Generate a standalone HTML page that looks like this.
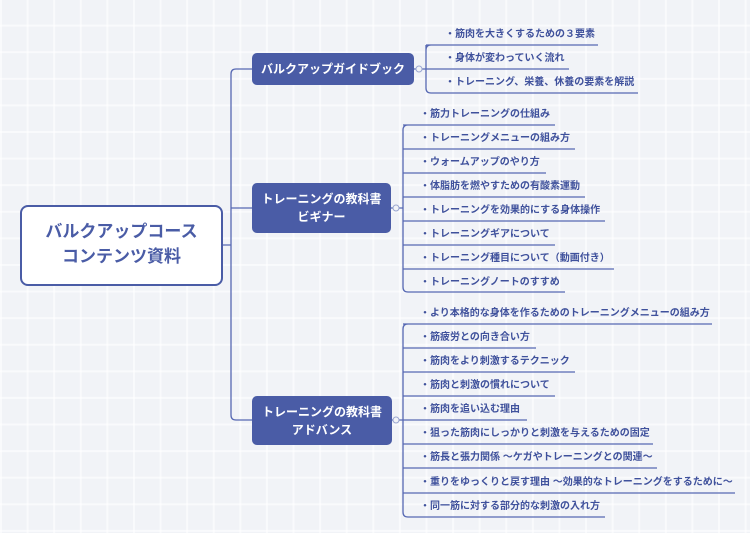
<!DOCTYPE html>
<html><head><meta charset="utf-8"><style>
html,body{margin:0;padding:0}
body{width:750px;height:533px;position:relative;overflow:hidden;
background-color:#f1f3f7;
background-image:linear-gradient(90deg,rgba(255,255,255,.6) 2px,transparent 2px),linear-gradient(0deg,rgba(255,255,255,.6) 2px,transparent 2px);
background-size:26.6px 26.6px;
font-family:"Liberation Sans","Noto Sans CJK JP",sans-serif;font-weight:bold}
.b{position:absolute;background:#4a5ca6;color:#fff;border-radius:5px;display:flex;align-items:center;justify-content:center;text-align:center;font-size:12px;line-height:18px}
.r{position:absolute;left:20px;top:205px;width:199px;height:77px;border:2px solid #4a5ca6;border-radius:8px;background:#fff;color:#4a5ca6;font-size:17px;line-height:25px;display:flex;align-items:center;justify-content:center;text-align:center;padding-bottom:4px;box-sizing:content-box;height:73px}
.t{position:absolute;font-size:10px;color:#3f519c;white-space:nowrap;line-height:12px;margin-top:2px}
svg{position:absolute;left:0;top:0}
</style></head><body>
<svg width="750" height="533" fill="none" stroke="#5668b3" stroke-width="1.3">
<path d="M222 245H231M252 69H236Q231 69 231 74V415Q231 420 236 420H252M231 208H252"/>
<path d="M414 69H426M426 69H432M426 45V88Q426 93 431 93H638M431 45Q426 45 426 50M426 45H598M426 69H569"/>
<path d="M391 208H403M408 125Q403 125 403 130V287Q403 292 408 292H565M403 125H555M403 149H575M403 173H546M403 197H585M403 221H605M403 245H555M403 269H614"/>
<path d="M391 420H403M408 324Q403 324 403 329V512Q403 517 408 517H605M403 324H712M403 348H536M403 372H575M403 396H555M403 420H527M403 444H653M403 468H657M403 493H735"/>
<g fill="#f1f3f7" stroke="#9aa6d0" stroke-width="1"><circle cx="419" cy="69" r="3"/><circle cx="396" cy="208" r="3"/><circle cx="396" cy="420" r="3"/></g>
</svg>
<div class="r">バルクアップコース<br>コンテンツ資料</div>
<div class="b" style="left:252px;top:53px;width:162px;height:32px">バルクアップガイドブック</div>
<div class="b" style="left:252px;top:183px;width:139px;height:50px">トレーニングの教科書<br>ビギナー</div>
<div class="b" style="left:252px;top:396px;width:140px;height:49px">トレーニングの教科書<br>アドバンス</div>
<div class="t" style="left:445px;top:27px">・筋肉を大きくするための３要素</div>
<div class="t" style="left:445px;top:51px">・身体が変わっていく流れ</div>
<div class="t" style="left:445px;top:75px">・トレーニング、栄養、休養の要素を解説</div>
<div class="t" style="left:420px;top:107px">・筋力トレーニングの仕組み</div>
<div class="t" style="left:420px;top:131px">・トレーニングメニューの組み方</div>
<div class="t" style="left:420px;top:155px">・ウォームアップのやり方</div>
<div class="t" style="left:420px;top:179px">・体脂肪を燃やすための有酸素運動</div>
<div class="t" style="left:420px;top:203px">・トレーニングを効果的にする身体操作</div>
<div class="t" style="left:420px;top:227px">・トレーニングギアについて</div>
<div class="t" style="left:420px;top:251px">・トレーニング種目について（動画付き）</div>
<div class="t" style="left:420px;top:275px">・トレーニングノートのすすめ</div>
<div class="t" style="left:420px;top:306px">・より本格的な身体を作るためのトレーニングメニューの組み方</div>
<div class="t" style="left:420px;top:330px">・筋疲労との向き合い方</div>
<div class="t" style="left:420px;top:354px">・筋肉をより刺激するテクニック</div>
<div class="t" style="left:420px;top:378px">・筋肉と刺激の慣れについて</div>
<div class="t" style="left:420px;top:402px">・筋肉を追い込む理由</div>
<div class="t" style="left:420px;top:426px">・狙った筋肉にしっかりと刺激を与えるための固定</div>
<div class="t" style="left:420px;top:450px">・筋長と張力関係 〜ケガやトレーニングとの関連〜</div>
<div class="t" style="left:420px;top:475px">・重りをゆっくりと戻す理由 〜効果的なトレーニングをするために〜</div>
<div class="t" style="left:420px;top:499px">・同一筋に対する部分的な刺激の入れ方</div>
</body></html>
